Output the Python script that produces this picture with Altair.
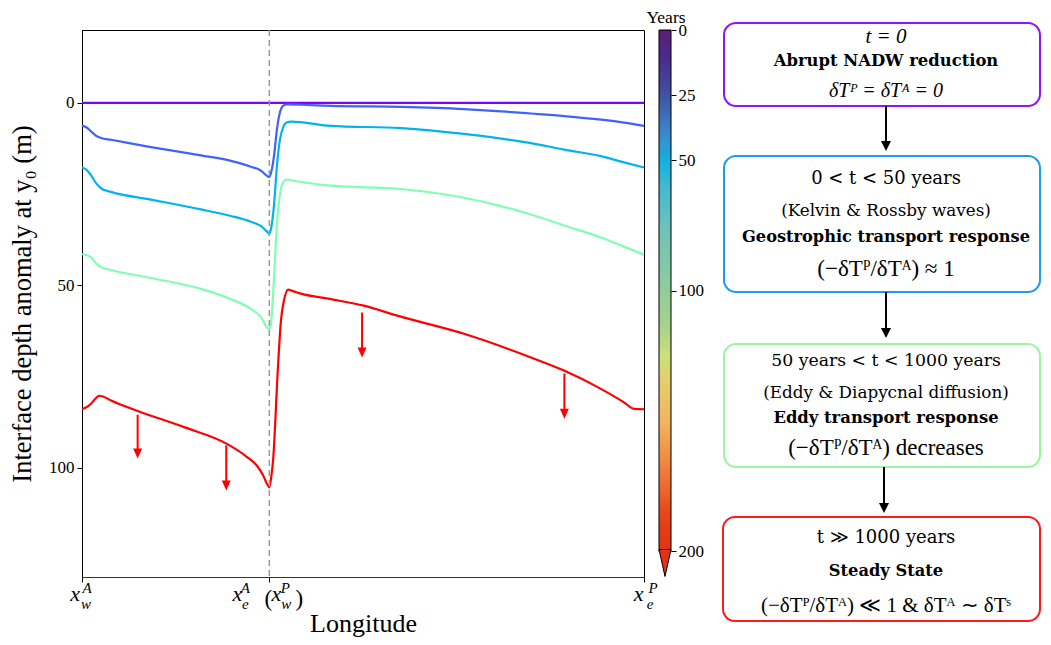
import altair as alt
import pandas as pd

SERIF = "Liberation Serif"
FLOWFONT = "DejaVu Serif"

# ---------------- main panel data ----------------
# longitude: 0 = x_w^A, 1 = x_e^A (= x_w^P), 3 = x_e^P ; depth anomaly in m
series_names = ["t0", "t25", "t50", "t100", "t200"]
series_colors = ["#8000ff", "#4062fa", "#00b4ec", "#80ffb4", "#ff0000"]

lon_t0 = [0.0, 3.0]
dep_t0 = [0.0, 0.0]

lon_t25 = [0.0, 0.021, 0.048, 0.075, 0.101, 0.155, 0.368, 0.635, 0.795, 0.902, 0.956, 0.988, 1.0,
           1.009, 1.025, 1.041, 1.057, 1.073, 1.094, 1.169, 1.329, 1.703, 2.039, 2.237, 2.397,
           2.573, 2.771, 2.893, 3.0]
dep_t25 = [6.3, 6.6, 7.8, 9.0, 9.6, 10.1, 12.1, 14.4, 15.9, 17.5, 18.6, 20.0, 20.3,
           19.2, 14.5, 7.1, 2.5, 0.8, 0.4, 0.5, 0.8, 1.1, 1.7, 2.3, 2.9,
           3.6, 4.6, 5.4, 6.3]

lon_t50 = [0.0, 0.021, 0.048, 0.075, 0.101, 0.155, 0.368, 0.635, 0.795, 0.902, 0.956, 0.988, 1.0,
           1.009, 1.025, 1.041, 1.057, 1.073, 1.094, 1.116, 1.329, 1.703, 2.039, 2.237, 2.397,
           2.573, 2.771, 2.893, 3.0]
dep_t50 = [17.7, 18.2, 19.8, 22.0, 23.4, 24.4, 26.5, 29.2, 31.0, 32.6, 33.8, 35.3, 35.9,
           34.5, 28.0, 17.0, 10.0, 6.8, 5.3, 5.1, 6.3, 6.9, 8.5, 9.8, 11.0,
           12.8, 14.6, 16.3, 17.7]

lon_t100 = [0.0, 0.021, 0.048, 0.075, 0.101, 0.155, 0.368, 0.635, 0.795, 0.902, 0.956, 0.988, 1.0,
            1.009, 1.025, 1.041, 1.057, 1.073, 1.094, 1.116, 1.329, 1.703, 2.039, 2.237, 2.397,
            2.573, 2.771, 2.893, 3.0]
dep_t100 = [41.5, 41.7, 42.3, 44.0, 45.0, 45.8, 48.0, 51.0, 53.8, 56.5, 58.8, 61.6, 62.0,
            60.5, 48.0, 33.0, 25.0, 21.8, 21.0, 21.2, 22.7, 23.6, 26.0, 28.3, 30.6,
            33.6, 36.9, 39.4, 41.6]

lon_t200 = [0.0, 0.021, 0.048, 0.075, 0.091, 0.112, 0.155, 0.294, 0.545, 0.774, 0.881, 0.934, 0.966,
            0.988, 1.0, 1.009, 1.020, 1.046, 1.062, 1.078, 1.100, 1.126, 1.169, 1.329, 1.505, 1.687,
            2.039, 2.397, 2.573, 2.755, 2.893, 2.947, 3.0]
dep_t200 = [83.9, 83.5, 82.5, 80.9, 80.3, 80.5, 81.6, 84.4, 88.9, 93.5, 97.1, 99.5, 102.0,
            104.5, 105.4, 103.0, 98.0, 72.5, 59.7, 54.2, 51.2, 51.6, 52.3, 53.8, 55.6, 58.4,
            63.3, 69.8, 73.4, 78.0, 82.1, 83.9, 84.0]

# red "deepening" arrows
arrow_lon = [0.297, 0.770, 1.495, 2.575]
arrow_top = [85.5, 93.9, 57.5, 74.2]
arrow_tip = [97.5, 106.3, 69.8, 86.6]

boundary_lon = [1.0]

# x tick label pieces (math labels x_w^A, x_e^A (x_w^P), x_e^P)
xlab_lon = [0, 0, 0, 1, 1, 1, 1, 1, 1, 1, 1, 3, 3, 3]
xlab_txt = ["x", "A", "w", "x", "A", "e", "(", "x", "P", "w", ")", "x", "P", "e"]
xlab_level = ["base", "sup", "sub", "base", "sup", "sub", "paren", "base", "sup", "sub", "paren",
              "base", "sup", "sub"]
xlab_dx = [-7, 5, 4, -32, -24, -24, -1, 7, 16, 17, 30, -5.5, 9, 6]

# ---------------- colorbar data ----------------
cb_ticks = [0, 25, 50, 100, 200]
cb_stops = [0, 10, 25, 40, 50, 60, 75, 100, 115, 125, 135, 150, 160, 175, 185, 200]
cb_colors = ["#5c1e78", "#4b2a8c", "#3f55a3", "#3a8ccc", "#14b0e2", "#45b9d0", "#6cc2bd",
             "#92cd99", "#aad48a", "#cde07a", "#e6cc6c", "#f2b45e", "#f0984c", "#ea6a30",
             "#e5461a", "#e33216"]

# ---------------- flowchart data ----------------
box_x1 = [38, 38, 38, 37]
box_x2 = [354, 354, 354, 354]
box_y1 = [-7, 126, 314, 487]
box_y2 = [76, 262, 437, 591]
box_colors = ["#9013fe", "#1e9be9", "#9cf5a0", "#ff1a1a"]

flow_arrow_x = [200, 200, 198]
flow_arrow_from = [76, 262, 437]
flow_arrow_tip = [121, 308, 483]

flow_text = [
    "t = 0", "Abrupt NADW reduction", "δTᴾ = δTᴬ = 0",
    "0 < t < 50 years", "(Kelvin & Rossby waves)", "Geostrophic transport response", "(−δTᴾ/δTᴬ) ≈ 1",
    "50 years < t < 1000 years", "(Eddy & Diapycnal diffusion)", "Eddy transport response",
    "(−δTᴾ/δTᴬ) decreases",
    "t ≫ 1000 years", "Steady State", "(−δTᴾ/δTᴬ) ≪ 1 & δTᴬ ∼ δTˢ",
]
flow_text_y = [7, 31, 61, 149, 181, 207, 239, 331, 363, 388, 418, 508, 541, 576]
flow_text_style = ["mathit", "bold", "mathit", "reg", "reg", "bold", "math", "reg", "reg", "bold",
                   "math", "reg", "bold", "math"]
flow_text_size = [21, 16.4, 20, 18, 16.8, 16.2, 23, 17.3, 16.8, 16.4, 23, 18, 16.3, 21]

# ---------------- main panel ----------------
lines_df = pd.concat([
    pd.DataFrame({"lon": lo, "depth": de, "series": nm})
    for lo, de, nm in zip([lon_t0, lon_t25, lon_t50, lon_t100, lon_t200],
                          [dep_t0, dep_t25, dep_t50, dep_t100, dep_t200], series_names)
], ignore_index=True)
arrows_df = pd.DataFrame({"lon": arrow_lon, "top": arrow_top, "tip": arrow_tip})
arrows_df["shaft_end"] = arrows_df["tip"] - 1.5
xlab_df = pd.DataFrame({"idx": list(range(len(xlab_txt))), "lon": xlab_lon, "txt": xlab_txt,
                        "level": xlab_level})

W_MAIN, H = 562, 547
x_scale = alt.Scale(domain=[0, 3], nice=False, zero=False)
y_scale = alt.Scale(domain=[-20, 130], reverse=True, nice=False, zero=False)

x_axis = alt.Axis(values=[0, 1, 3], labels=False, title="Longitude", titleFont=SERIF,
                  titleFontSize=26, titleFontWeight="normal", titleColor="black", titlePadding=28,
                  tickColor="black", tickSize=5, domainColor="#333333", grid=False)
y_axis = alt.Axis(values=[0, 50, 100], title="Interface depth anomaly at y₀ (m)", titleFont=SERIF,
                  titleFontSize=26.5, titleFontWeight="normal", titleColor="black", titlePadding=12,
                  labelFont=SERIF, labelFontSize=17, labelColor="black", labelPadding=3,
                  tickColor="black", tickSize=5, domainColor="black", grid=False)

X = alt.X("lon:Q", scale=x_scale, axis=x_axis)

lines = alt.Chart(lines_df).mark_line(strokeWidth=2.2, interpolate="monotone").encode(
    x=X,
    y=alt.Y("depth:Q", scale=y_scale, axis=y_axis),
    color=alt.Color("series:N", scale=alt.Scale(domain=series_names, range=series_colors), legend=None),
    detail="series:N",
)

boundary = alt.Chart(pd.DataFrame({"lon": boundary_lon})).mark_rule(
    strokeDash=[6, 4], color="#999999", strokeWidth=1.5
).encode(x=X)

shafts = alt.Chart(arrows_df).mark_rule(color="#ff0000", strokeWidth=2).encode(
    x=X, y=alt.Y("top:Q", scale=y_scale, axis=y_axis), y2="shaft_end:Q"
)
heads = alt.Chart(arrows_df).mark_point(
    shape="M-0.45,-1L0.45,-1L0,0Z", size=400, filled=True, color="#ff0000", opacity=1
).encode(x=X, y=alt.Y("tip:Q", scale=y_scale, axis=y_axis))

LEVEL_Y = {"base": 571, "sup": 563, "sub": 579, "paren": 576}
LEVEL_SIZE = {"base": 22, "sup": 15, "sub": 15, "paren": 23}
xlab_layers = []
for i, lvl in enumerate(xlab_level):
    xlab_layers.append(
        alt.Chart(xlab_df).transform_filter(alt.datum.idx == i).mark_text(
            font=SERIF, fontSize=LEVEL_SIZE[lvl],
            fontStyle="normal" if lvl == "paren" else "italic",
            color="black", align="center", baseline="alphabetic", dx=xlab_dx[i]
        ).encode(x=X, y=alt.value(LEVEL_Y[lvl]), text="txt:N")
    )

main = alt.layer(lines, boundary, shafts, heads, *xlab_layers).properties(
    width=W_MAIN, height=H, view=alt.ViewBackground(stroke="black", strokeWidth=1)
)

# ---------------- colorbar panel ----------------
CB_W = 12
cb_scale = alt.Scale(domain=[0, 209.8], reverse=True, nice=False, zero=False)
cb_axis = alt.Axis(orient="right", values=cb_ticks, title="", labelFont=SERIF, labelFontSize=17,
                   labelColor="black", labelPadding=2, tickColor="black", tickSize=5,
                   domain=False, grid=False)

grad = alt.Chart(alt.sequence(0, 200, 1, as_="v")).transform_calculate(
    v2="min(datum.v + 1.3, 200)"
).mark_rect(strokeWidth=0).encode(
    y=alt.Y("v:Q", scale=cb_scale, axis=cb_axis), y2="v2:Q",
    x=alt.value(0), x2=alt.value(CB_W),
    color=alt.Color("v:Q", scale=alt.Scale(domain=cb_stops, range=cb_colors, interpolate="rgb"),
                    legend=None),
)
outline = alt.Chart(pd.DataFrame({"a": [0], "b": [200]})).mark_rect(
    fill="transparent", stroke="black", strokeWidth=1
).encode(y=alt.Y("a:Q", scale=cb_scale, axis=cb_axis), y2="b:Q", x=alt.value(0), x2=alt.value(CB_W))
tri = alt.Chart(pd.DataFrame({"t": [209.6]})).mark_point(
    shape="M-0.222,-1L0.222,-1L0,0Z", size=2916, filled=True, fill="#e33216",
    stroke="black", strokeWidth=1, opacity=1
).encode(y=alt.Y("t:Q", scale=cb_scale, axis=cb_axis), x=alt.value(CB_W / 2))
years = alt.Chart(pd.DataFrame({"t": ["Years"]})).mark_text(
    font=SERIF, fontSize=17.5, color="black", align="center", baseline="alphabetic"
).encode(text="t:N", x=alt.value(7), y=alt.value(-7.5))

cbar = alt.layer(grad, outline, tri, years).properties(
    width=CB_W, height=H, view=alt.ViewBackground(stroke="transparent")
)

# ---------------- flowchart panel ----------------
W_FLOW = 354
fx = alt.Scale(domain=[0, W_FLOW], nice=False, zero=False)
fy = alt.Scale(domain=[0, H], reverse=True, nice=False, zero=False)

boxes_df = pd.DataFrame({"x1": box_x1, "x2": box_x2, "y1": box_y1, "y2": box_y2, "c": box_colors})
boxes = alt.Chart(boxes_df).mark_rect(fill="white", strokeWidth=2, cornerRadius=12).encode(
    x=alt.X("x1:Q", scale=fx, axis=None), x2="x2:Q",
    y=alt.Y("y1:Q", scale=fy, axis=None), y2="y2:Q",
    stroke=alt.Stroke("c:N", scale=None),
)

farrow_df = pd.DataFrame({"x": flow_arrow_x, "y1": flow_arrow_from, "tip": flow_arrow_tip})
farrow_df["y2"] = farrow_df["tip"] - 5
fshaft = alt.Chart(farrow_df).mark_rule(color="black", strokeWidth=2).encode(
    x=alt.X("x:Q", scale=fx, axis=None), y=alt.Y("y1:Q", scale=fy, axis=None), y2="y2:Q"
)
fhead = alt.Chart(farrow_df).mark_point(
    shape="M-0.5,-1L0.5,-1L0,0Z", size=400, filled=True, color="black", opacity=1
).encode(x=alt.X("x:Q", scale=fx, axis=None), y=alt.Y("tip:Q", scale=fy, axis=None))

ftext_df = pd.DataFrame({"txt": flow_text, "y": flow_text_y, "style": flow_text_style,
                         "size": flow_text_size})
ftext_df["x"] = 200

def ftext_layer(style, font, weight, fstyle):
    return alt.Chart(ftext_df).transform_filter(alt.datum.style == style).mark_text(
        font=font, fontWeight=weight, fontStyle=fstyle, color="black", align="center",
        baseline="middle"
    ).encode(
        x=alt.X("x:Q", scale=fx, axis=None), y=alt.Y("y:Q", scale=fy, axis=None),
        text="txt:N", size=alt.Size("size:Q", scale=None),
    )

flow = alt.layer(
    boxes, fshaft, fhead,
    ftext_layer("reg", FLOWFONT, "normal", "normal"),
    ftext_layer("bold", FLOWFONT, "bold", "normal"),
    ftext_layer("math", SERIF, "normal", "normal"),
    ftext_layer("mathit", SERIF, "normal", "italic"),
).properties(width=W_FLOW, height=H, view=alt.ViewBackground(stroke="transparent"))

chart = alt.hconcat(main, cbar, flow, spacing=15, bounds="flush").properties(
    padding={"left": 1, "top": 0, "right": 0, "bottom": 0}
).configure_view(stroke="transparent")

chart.save("out.html", embed_options={"renderer": "svg", "actions": False})
